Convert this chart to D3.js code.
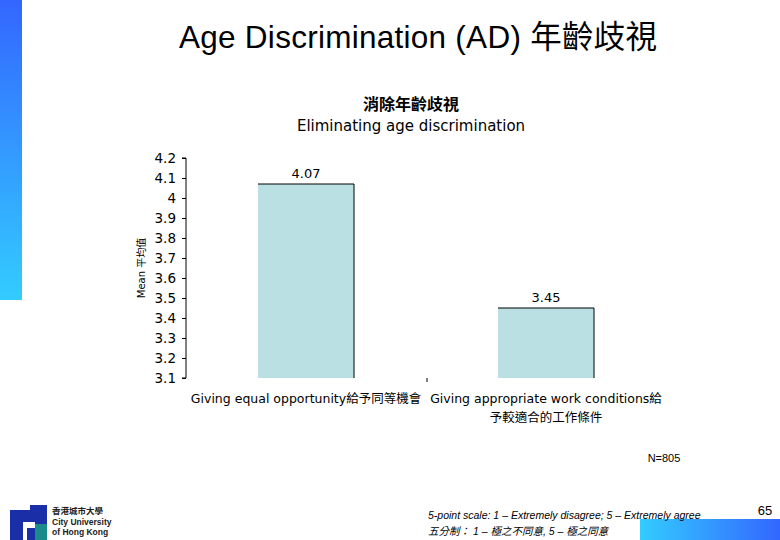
<!DOCTYPE html><html><head><meta charset="utf-8"><script src="https://cdn.jsdelivr.net/npm/d3@7"></script>
<style>body{margin:0;background:#fff}</style></head><body><svg id="c" width="780" height="540"></svg>
<script>
const categories=["Giving equal opportunity給予同等機會","Giving appropriate work conditions給|予較適合的工作條件"];
const values=[4.07,3.45];
const ticks=[3.1,3.2,3.3,3.4,3.5,3.6,3.7,3.8,3.9,4,4.1,4.2];
const svg=d3.select("#c");
const defs=svg.append("defs");
const g1=defs.append("linearGradient").attr("id","lg").attr("x1",0).attr("x2",0).attr("y1",0).attr("y2",1);
g1.append("stop").attr("offset",0).attr("stop-color","#3366ff");g1.append("stop").attr("offset",1).attr("stop-color","#33ccff");
const g2=defs.append("linearGradient").attr("id","bg");
g2.append("stop").attr("offset",0).attr("stop-color","#33ccff");g2.append("stop").attr("offset",1).attr("stop-color","#3366ff");
svg.append("rect").attr("x",0).attr("y",0).attr("width",22).attr("height",300).attr("fill","url(#lg)");
svg.append("rect").attr("x",640).attr("y",519).attr("width",140).attr("height",21).attr("fill","url(#bg)");
svg.append("text").attr("x",418).attr("y",48).attr("text-anchor","middle").attr("font-family","Liberation Sans, Noto Sans CJK TC").attr("font-size",31.5).attr("textLength",478).text("Age Discrimination (AD) 年齡歧視");
svg.append("text").attr("x",411).attr("y",110).attr("text-anchor","middle").attr("font-family","Noto Sans CJK TC").attr("font-weight","bold").attr("font-size",16).text("消除年齡歧視");
svg.append("text").attr("x",411).attr("y",131).attr("text-anchor","middle").attr("font-family","DejaVu Sans").attr("font-size",15).text("Eliminating age discrimination");
const y=d3.scaleLinear().domain([3.1,4.2]).range([378,158]);
const x=d3.scaleBand().domain(categories).range([186,666]).paddingInner(0.6).paddingOuter(0.3);
const ax=svg.append("g").attr("transform","translate(186,0)").call(d3.axisLeft(y).tickValues(ticks).tickFormat(d3.format("")).tickSize(4));
ax.selectAll("text").attr("font-family","DejaVu Sans").attr("font-size",13.5).attr("fill","#000").attr("x",-10);
ax.select(".domain").attr("d","M-4,378H0V158H-4").attr("stroke","#000");
ax.selectAll(".tick line").attr("stroke","#000");
svg.append("line").attr("x1",427).attr("x2",427).attr("y1",378).attr("y2",382).attr("stroke","#000");
svg.selectAll(".bar").data(values).join("rect").attr("x",(d,i)=>x(categories[i])).attr("width",x.bandwidth()).attr("y",d=>y(d)).attr("height",d=>378-y(d)).attr("fill","#bbe0e3");
svg.selectAll(".bt").data(values).join("path").attr("d",(d,i)=>`M${x(categories[i])},${y(d)}H${x(categories[i])+x.bandwidth()}V378`).attr("fill","none").attr("stroke","#000");
svg.selectAll(".vl").data(values).join("text").attr("x",(d,i)=>x(categories[i])+x.bandwidth()/2).attr("y",d=>y(d)-6).attr("text-anchor","middle").attr("font-family","DejaVu Sans").attr("font-size",13).text(d=>d.toFixed(2));
categories.forEach((c,i)=>{const parts=c.split("|");const cx=[306,546][i];
parts.forEach((p,j)=>svg.append("text").attr("x",cx).attr("y",403+j*19).attr("text-anchor","middle").attr("font-family","DejaVu Sans, Noto Sans CJK TC").attr("font-size",12.5).text(p));});
svg.append("text").attr("transform","translate(145,268) rotate(-90)").attr("text-anchor","middle").attr("font-family","DejaVu Sans, Noto Sans CJK TC").attr("font-size",10).text("Mean 平均值");
svg.append("text").attr("x",664).attr("y",462).attr("text-anchor","middle").attr("font-family","Liberation Sans").attr("font-size",11).text("N=805");
svg.append("text").attr("x",428).attr("y",519).attr("font-family","Liberation Sans").attr("font-style","italic").attr("font-size",10.5).text("5-point scale: 1 – Extremely disagree; 5 – Extremely agree");
svg.append("text").attr("x",428).attr("y",535).attr("font-family","Liberation Sans, Noto Sans CJK TC").attr("font-style","italic").attr("font-size",10.5).text("五分制： 1 – 極之不同意, 5 – 極之同意");
svg.append("text").attr("x",765).attr("y",515).attr("text-anchor","middle").attr("font-family","Liberation Sans").attr("font-size",13).text("65");
svg.append("path").attr("d","M10,510 h25 v12 h-12 v18 h-13z").attr("fill","#1a2ea8");
svg.append("path").attr("d","M30,505 h17 v35 h-20 v-12 h8 v-10 h-5z").attr("fill","#1a2ea8");
svg.append("rect").attr("x",35).attr("y",524).attr("width",12).attr("height",16).attr("fill","#1a8a8a");
[["香港城市大學",514],["City University",525],["of Hong Kong",535]].forEach(t=>svg.append("text").attr("x",52).attr("y",t[1]).attr("font-family","Liberation Sans, Noto Sans CJK TC").attr("font-size",8.5).attr("font-weight","bold").attr("fill","#222").text(t[0]));
</script></body></html>
